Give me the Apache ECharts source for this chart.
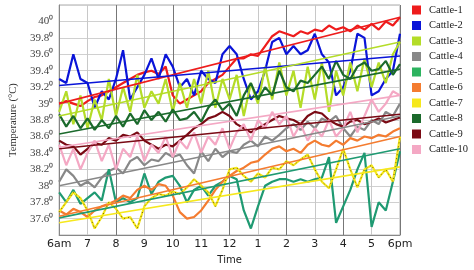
<!DOCTYPE html>
<html>
<head>
<meta charset="utf-8">
<script src="https://cdn.jsdelivr.net/npm/echarts@6/dist/echarts.min.js"></script>
<style>
  html, body { margin: 0; padding: 0; background: #fff; }
  #chart { width: 474px; height: 270px; }
</style>
</head>
<body>
<div id="chart"></div>
<script>
// sample times, hours of the day (15 min steps)
const times = [6, 6.25, 6.5, 6.75, 7, 7.25, 7.5, 7.75, 8, 8.25, 8.5, 8.75, 9, 9.25, 9.5, 9.75,
  10, 10.25, 10.5, 10.75, 11, 11.25, 11.5, 11.75, 12, 12.25, 12.5, 12.75, 13, 13.25, 13.5, 13.75,
  14, 14.25, 14.5, 14.75, 15, 15.25, 15.5, 15.75, 16, 16.25, 16.5, 16.75, 17, 17.25, 17.5, 17.75, 18];

const hourLabels = ['6am', '7', '8', '9', '10', '11', '12', '1', '2', '3', '4', '5', '6pm'];

const cattle1 = [39.0, 39.03, 39.0, 38.97, 39.03, 39.08, 39.1, 39.15, 39.2, 39.25, 39.3, 39.35, 39.38, 39.4, 39.36, 39.45,
  39.1, 39.0, 39.05, 39.1, 39.15, 39.25, 39.3, 39.35, 39.45, 39.55, 39.55, 39.6, 39.58, 39.7, 39.82, 39.88,
  39.85, 39.82, 39.88, 39.85, 39.9, 39.88, 39.95, 39.9, 39.93, 39.88, 39.95, 39.9, 39.97, 39.9, 40.0, 39.95, 40.05];
const cattle2 = [39.3, 39.25, 39.6, 39.3, 39.25, 38.95, 39.15, 39.05, 39.3, 39.65, 39.05, 39.2, 39.35, 39.55, 39.3, 39.6,
  39.45, 39.2, 39.3, 39.1, 39.4, 39.3, 39.25, 39.6, 39.7, 39.6, 39.3, 39.05, 39.15, 39.4, 39.75, 39.8,
  39.6, 39.7, 39.6, 39.65, 39.85, 39.6, 39.5, 39.1, 39.2, 39.4, 39.85, 39.8, 39.1, 39.15, 39.3, 39.4, 39.85];
const cattle3 = [38.9, 39.15, 38.75, 39.1, 38.7, 39.05, 38.8, 39.3, 38.85, 39.2, 38.9, 39.35, 38.95, 39.15, 39.0, 39.3,
  38.9, 39.25, 38.95, 39.3, 39.0, 39.4, 38.95, 39.3, 39.05, 39.35, 38.85, 39.25, 39.0, 39.45, 39.05, 39.5,
  39.1, 39.4, 38.95, 39.45, 39.05, 39.5, 38.9, 39.4, 39.1, 39.5, 39.15, 39.55, 39.2, 39.5, 39.25, 39.6, 39.75];
const cattle4 = [38.05, 38.2, 38.12, 38.0, 38.05, 37.98, 38.1, 38.18, 38.22, 38.15, 38.3, 38.35, 38.25, 38.32, 38.3, 38.4,
  38.35, 38.38, 38.25, 38.15, 38.42, 38.3, 38.45, 38.35, 38.42, 38.4, 38.5, 38.55, 38.48, 38.6, 38.55, 38.62,
  38.7, 38.75, 38.68, 38.78, 38.7, 38.82, 38.78, 38.85, 38.7, 38.6, 38.72, 38.68, 38.8, 38.75, 38.9, 38.85, 39.0];
const cattle5 = [37.92, 37.8, 37.95, 37.78, 37.85, 37.92, 37.82, 38.2, 37.8, 37.85, 37.8, 37.85, 38.15, 37.9, 38.05, 38.1,
  38.12, 38.0, 37.8, 37.95, 38.0, 37.88, 38.0, 38.05, 38.12, 38.08, 37.7, 37.48, 37.75, 38.0, 38.05, 38.08,
  38.08, 38.05, 38.08, 38.05, 38.08, 38.1, 38.35, 37.55, 37.75, 37.95, 38.2, 38.4, 37.5, 37.8, 37.7, 38.05, 38.42];
const cattle6 = [37.7, 37.65, 37.72, 37.68, 37.62, 37.7, 37.75, 37.78, 37.82, 37.88, 37.85, 37.95, 38.0, 37.95, 38.02, 38.0,
  37.88, 37.68, 37.6, 37.62, 37.7, 37.82, 37.95, 38.05, 38.12, 38.18, 38.22, 38.28, 38.3, 38.38, 38.45, 38.48,
  38.42, 38.45, 38.4, 38.5, 38.55, 38.5, 38.48, 38.55, 38.5, 38.58, 38.55, 38.6, 38.58, 38.62, 38.6, 38.66, 38.7];
const cattle7 = [37.68, 37.8, 37.92, 37.85, 37.7, 37.48, 37.62, 37.8, 37.72, 37.6, 37.62, 37.48, 37.75, 37.85, 37.9, 37.88,
  37.93, 37.9, 37.98, 38.08, 38.0, 37.92, 37.75, 37.95, 38.2, 38.22, 38.12, 38.05, 38.15, 38.1, 38.22, 38.2,
  38.3, 38.25, 38.32, 38.38, 38.2, 38.05, 37.97, 38.2, 38.45, 38.2, 37.98, 38.2, 38.25, 38.1, 38.2, 38.05, 38.6];
const cattle8 = [38.87, 38.72, 38.85, 38.7, 38.82, 38.68, 38.8, 38.7, 38.85, 38.72, 38.88, 38.75, 38.92, 38.8, 38.9, 38.78,
  38.93, 38.8, 38.82, 38.9, 38.78, 38.95, 39.05, 38.92, 39.0, 38.85, 39.1, 39.25, 39.05, 39.2, 39.1, 39.4,
  39.2, 39.15, 39.28, 39.25, 39.35, 39.45, 39.3, 39.52, 39.35, 39.3, 39.45, 39.5, 39.4, 39.42, 39.52, 39.35, 39.48];
const cattle9 = [38.55, 38.5, 38.48, 38.38, 38.45, 38.52, 38.5, 38.58, 38.55, 38.62, 38.6, 38.65, 38.55, 38.5, 38.45, 38.5,
  38.48, 38.55, 38.62, 38.7, 38.75, 38.82, 38.85, 38.9, 38.85, 38.75, 38.7, 38.65, 38.7, 38.75, 38.8, 38.85,
  38.82, 38.8, 38.75, 38.85, 38.9, 38.88, 38.8, 38.75, 38.72, 38.78, 38.8, 38.75, 38.78, 38.82, 38.77, 38.8, 38.83];
const cattle10 = [38.5, 38.25, 38.45, 38.2, 38.4, 38.55, 38.3, 38.5, 38.2, 38.45, 38.35, 38.6, 38.3, 38.5, 38.4, 38.6,
  38.35, 38.55, 38.45, 38.65, 38.4, 38.6, 38.5, 38.7, 38.45, 38.65, 38.75, 38.55, 38.8, 38.7, 38.9, 38.75,
  38.85, 38.6, 38.75, 38.55, 38.7, 38.6, 38.8, 38.6, 38.7, 38.9, 38.65, 38.85, 39.05, 38.9, 39.0, 39.15, 39.1];

// straight trend lines: value at 6am and at 6pm
const trendStart = [39.0, 39.22, 38.85, 38.0, 37.61, 37.63, 37.55, 38.63, 38.45, 38.47];
const trendEnd = [40.05, 39.58, 39.75, 38.85, 38.45, 38.6, 38.23, 39.42, 38.87, 39.1];

const names = ['Cattle-1', 'Cattle-2', 'Cattle-3', 'Cattle-4', 'Cattle-5', 'Cattle-6', 'Cattle-7', 'Cattle-8', 'Cattle-9', 'Cattle-10'];
const colors = ['#ee1c1c', '#0a14d8', '#b4dc28', '#888888', '#1f9a72', '#f47c30', '#f6e81c', '#1b6a2c', '#7a0a14', '#f4a8c4'];
const legendColors = ['#ee1c1c', '#0a14d8', '#b4dc28', '#888888', '#2db35f', '#f47c30', '#f6e81c', '#1b6a2c', '#7a0a14', '#f4a8c4'];
const allData = [cattle1, cattle2, cattle3, cattle4, cattle5, cattle6, cattle7, cattle8, cattle9, cattle10];

const series = [];
allData.forEach((vals, i) => {
  series.push({
    name: names[i], type: 'line', showSymbol: false, silent: true,
    data: times.map((t, k) => [t, vals[k]]),
    lineStyle: { color: colors[i], width: 2.2 }, itemStyle: { color: colors[i] }
  });
  if (i === 6) {
    // the yellow trace is speckled with dark dots
    series.push({
      name: names[i], type: 'line', showSymbol: false, silent: true,
      data: times.map((t, k) => [t, vals[k]]),
      lineStyle: { color: '#6b5a00', width: 1, type: [1, 3] }
    });
  }
});
allData.forEach((vals, i) => {
  series.push({
    name: names[i], type: 'line', showSymbol: false, silent: true,
    data: [[times[0], trendStart[i]], [times[times.length - 1], trendEnd[i]]],
    lineStyle: { color: colors[i], width: 1.6 }
  });
});

const chart = echarts.init(document.getElementById('chart'));
chart.setOption({
  animation: false,
  backgroundColor: '#fff',
  grid: { left: 58, right: 74, top: 5, bottom: 30, show: true, borderColor: '#aaa', borderWidth: 1 },
  legend: {
    orient: 'vertical', left: 412, top: 4, padding: 0,
    icon: 'rect', itemWidth: 9, itemHeight: 9, itemGap: 3.5,
    textStyle: { fontFamily: 'Liberation Serif', fontSize: 10.5, lineHeight: 12, color: '#222', padding: [0, 0, 0, 3] },
    data: names.map((n, i) => ({ name: n, itemStyle: { color: legendColors[i] } }))
  },
  xAxis: {
    type: 'value', min: 6, max: 18, interval: 1,
    name: 'Time', nameLocation: 'middle', nameGap: 16,
    nameTextStyle: { fontFamily: 'DejaVu Sans', fontSize: 10, color: '#222' },
    axisLine: { lineStyle: { color: '#888' } },
    axisTick: { show: false },
    axisLabel: {
      margin: 4, fontFamily: 'DejaVu Sans', fontSize: 11, color: '#222',
      formatter: v => hourLabels[Math.round(v) - 6]
    },
    splitLine: { show: true, lineStyle: { color: ['#777', '#c8c8c8'], width: 1 } }
  },
  yAxis: {
    type: 'value', min: 37.4, max: 40.2, interval: 0.2,
    name: 'Temperature (\u00B0C)', nameLocation: 'middle', nameGap: 30,
    nameTextStyle: { fontFamily: 'Liberation Serif', fontSize: 10.5, color: '#333' },
    axisLine: { show: true, lineStyle: { color: '#888' } },
    axisTick: { show: false },
    axisLabel: {
      showMinLabel: false, showMaxLabel: false, margin: 6,
      fontFamily: 'Liberation Serif', fontSize: 11, color: '#444',
      formatter: v => {
        const r = Math.round(v * 10) / 10;
        return (Number.isInteger(r) ? String(r) : r.toFixed(1)) + '\u2070';
      }
    },
    splitLine: { show: true, lineStyle: { color: '#d0d0d0', width: 1 } }
  },
  series: series
});
</script>
</body>
</html>
